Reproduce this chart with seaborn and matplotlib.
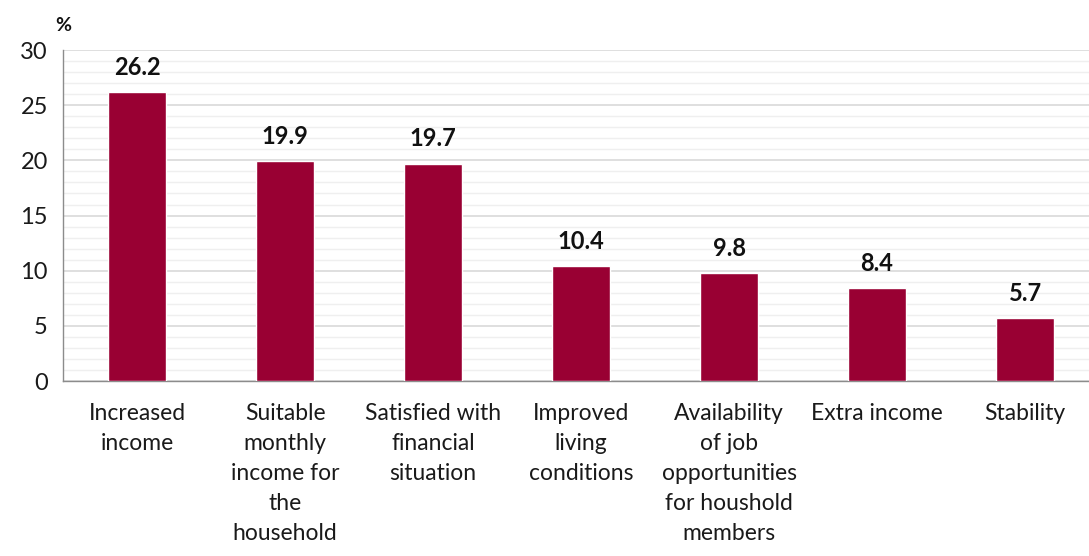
import matplotlib
matplotlib.use("Agg")
import matplotlib.pyplot as plt
from matplotlib.ticker import MultipleLocator
import seaborn as sns
import pandas as pd

categories = [
    "Increased\nincome",
    "Suitable\nmonthly\nincome for\nthe\nhousehold",
    "Satisfied with\nfinancial\nsituation",
    "Improved\nliving\nconditions",
    "Availability\nof job\nopportunities\nfor houshold\nmembers",
    "Extra income",
    "Stability",
]
values = [26.2, 19.9, 19.7, 10.4, 9.8, 8.4, 5.7]

df = pd.DataFrame({"category": categories, "value": values})

sns.set_style("white")
plt.rcParams["font.family"] = ["Lato", "DejaVu Sans"]

fig = plt.figure(figsize=(10.89, 5.56), dpi=100)
ax = fig.add_axes([0.0579, 0.3147, 0.9513, 0.5953])

sns.barplot(data=df, x="category", y="value", color="#990033",
            width=0.39, saturation=1, ax=ax, zorder=3)

ax.set_ylim(0, 30)
ax.set_xlim(-0.5, len(categories) - 0.5)
ax.yaxis.set_major_locator(MultipleLocator(5))
ax.yaxis.set_minor_locator(MultipleLocator(1))
ax.grid(axis="y", which="major", color="#d9d9d9", linewidth=1.2, zorder=0)
ax.grid(axis="y", which="minor", color="#efefef", linewidth=1.0, zorder=0)
ax.set_axisbelow(True)

for side in ["top", "right"]:
    ax.spines[side].set_visible(False)
for side in ["left", "bottom"]:
    ax.spines[side].set_color("#8c8c8c")
    ax.spines[side].set_linewidth(1.0)

# x ticks on category boundaries, labels centred on bars
ax.set_xticks([i - 0.5 for i in range(len(categories) + 1)], minor=False)
ax.set_xticklabels([])
ax.set_xticks(range(len(categories)), minor=True)
ax.set_xticklabels(categories, minor=True, fontsize=16.5, color="#1a1a1a",
                   linespacing=1.53, va="top")
ax.tick_params(axis="x", which="major", length=7, width=1, color="#8c8c8c",
               direction="out")
ax.tick_params(axis="x", which="minor", length=0, pad=16)
ax.tick_params(axis="y", which="major", length=6, width=1, color="#8c8c8c",
               labelsize=17, labelcolor="#1a1a1a", pad=5)
ax.tick_params(axis="y", which="minor", length=0)

ax.set_xlabel("")
ax.set_ylabel("")

for i, v in enumerate(values):
    ax.text(i, v + 1.2, f"{v:.1f}", ha="center", va="bottom",
            fontsize=17, fontweight="bold", color="#111111")

fig.text(0.0579, 0.955, "%", ha="center", va="center", fontsize=14,
         fontweight="bold", color="#111111")

fig.savefig("out.png", dpi=100)
